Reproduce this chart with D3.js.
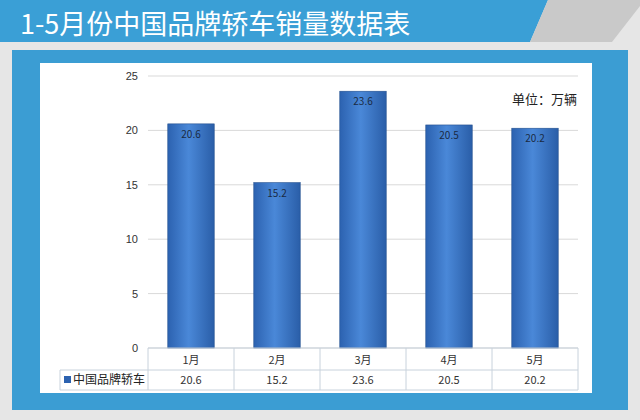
<!DOCTYPE html>
<html><head><meta charset="utf-8">
<script src="https://cdn.jsdelivr.net/npm/d3@7"></script>
<style>body{margin:0;background:#e6e6e6}svg{display:block;font-family:"Noto Sans CJK SC","Microsoft YaHei",sans-serif}</style>
</head><body><svg id="c" width="640" height="420"></svg>
<script>
const months = ['1月','2月','3月','4月','5月'];
const sales = [20.6, 15.2, 23.6, 20.5, 20.2];
const yTicks = [0, 5, 10, 15, 20, 25];
const seriesName = '中国品牌轿车';
const unit = '单位：万辆';
const title = '1-5月份中国品牌轿车销量数据表';

const svg = d3.select('#c');
const defs = svg.append('defs');
const g = defs.append('linearGradient').attr('id', 'bar');
g.append('stop').attr('offset', '0%').attr('stop-color', '#2c62b0');
g.append('stop').attr('offset', '45%').attr('stop-color', '#4a88d8');
g.append('stop').attr('offset', '100%').attr('stop-color', '#2a5ea8');

// banner
svg.append('path').attr('d', 'M0,0H548L530,42H0Z').attr('fill', '#3a9fd6');
svg.append('path').attr('d', 'M548,0H640V6L612,42H530Z').attr('fill', '#c9c9c9');
svg.append('text').attr('x', 20).attr('y', 34).attr('fill', '#fff')
  .attr('font-size', 27).text(title);

// panel
svg.append('rect').attr('x', 12).attr('y', 50).attr('width', 616).attr('height', 360).attr('fill', '#3b9dd3');
svg.append('rect').attr('x', 40).attr('y', 63).attr('width', 552).attr('height', 330).attr('fill', '#fff');

const x = d3.scaleBand().domain(months).range([148, 578]).paddingInner(0.46).paddingOuter(0.23);
const y = d3.scaleLinear().domain([0, 25]).range([348, 76]);

svg.append('g').selectAll('line').data(yTicks).join('line')
  .attr('x1', 148).attr('x2', 578).attr('y1', d => y(d)).attr('y2', d => y(d))
  .attr('stroke', '#d9d9d9');
const ya = svg.append('g').attr('transform', 'translate(142,0)')
  .call(d3.axisLeft(y).tickValues(yTicks).tickSize(0).tickPadding(4));
ya.select('.domain').remove();
ya.selectAll('text').attr('font-size', 11).attr('fill', '#333');

svg.append('g').selectAll('rect').data(sales).join('rect')
  .attr('x', (d, i) => x(months[i])).attr('width', x.bandwidth())
  .attr('y', d => y(d)).attr('height', d => y(0) - y(d))
  .attr('fill', 'url(#bar)').attr('stroke', '#23508f').attr('stroke-width', 0.6);
svg.append('g').selectAll('text').data(sales).join('text')
  .attr('x', (d, i) => x(months[i]) + x.bandwidth() / 2).attr('y', d => y(d) + 14)
  .attr('text-anchor', 'middle').attr('font-size', 10).attr('fill', '#1a2b44').text(d => d);

svg.append('text').attr('x', 577).attr('y', 104).attr('text-anchor', 'end')
  .attr('font-size', 13).attr('fill', '#222').text(unit);

// data table
const step = x.step();
const cols = months.map((m, i) => 148 + i * step);
const tb = svg.append('g').attr('stroke', '#c8d2dc').attr('fill', 'none');
tb.append('line').attr('x1', 60).attr('x2', 578).attr('y1', 370).attr('y2', 370);
tb.append('line').attr('x1', 60).attr('x2', 578).attr('y1', 390).attr('y2', 390);
tb.append('line').attr('x1', 148).attr('x2', 578).attr('y1', 348).attr('y2', 348);
tb.append('line').attr('x1', 60).attr('x2', 60).attr('y1', 370).attr('y2', 390);
tb.selectAll('.v').data(cols.concat([578])).join('line')
  .attr('x1', d => d).attr('x2', d => d).attr('y1', 348).attr('y2', 390);
svg.append('g').selectAll('text').data(months).join('text')
  .attr('x', m => x(m) + x.bandwidth() / 2).attr('y', 364).attr('text-anchor', 'middle')
  .attr('font-size', 11).attr('fill', '#333').text(m => m);
svg.append('g').selectAll('text').data(sales).join('text')
  .attr('x', (d, i) => x(months[i]) + x.bandwidth() / 2).attr('y', 384).attr('text-anchor', 'middle')
  .attr('font-size', 11).attr('fill', '#333').text(d => d);
svg.append('rect').attr('x', 64).attr('y', 376).attr('width', 7).attr('height', 7).attr('fill', '#2c62b0');
svg.append('text').attr('x', 73).attr('y', 384).attr('font-size', 12).attr('fill', '#222').text(seriesName);
</script></body></html>
